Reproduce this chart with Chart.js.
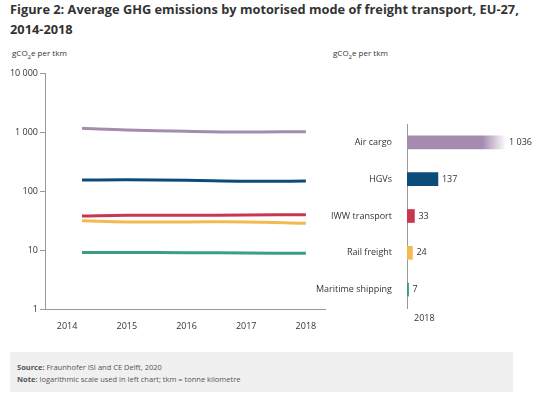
<!DOCTYPE html>
<html lang="en">
<head>
<meta charset="UTF-8">
<title>Average GHG emissions by motorised mode of freight transport</title>
<script src="https://cdn.jsdelivr.net/npm/chart.js"></script>
<style>
body { margin: 0; background: #fff; font-family: "Open Sans", sans-serif; color: #333; }
.title { position: absolute; left: 10px; top: -1px; width: 530px; font-size: 12.8px; font-weight: bold; line-height: 20px; color: #333; }
.unit { position: absolute; top: 47px; font-size: 8px; color: #333; }
.unit sub { font-size: 6px; }
#lineWrap { position: absolute; left: 0; top: 60px; width: 330px; height: 270px; }
#barWrap { position: absolute; left: 310px; top: 60px; width: 230px; height: 270px; }
.note { position: absolute; left: 10px; top: 352px; width: 503px; height: 40px; background: #f0f0f0; font-size: 7.5px; color: #555; }
.note div { position: absolute; left: 7px; }
</style>
</head>
<body>
<div class="title">Figure 2: Average GHG emissions by motorised mode of freight transport, EU-27, 2014-2018</div>
<div class="unit" style="left:12px">gCO<sub>2</sub>e per tkm</div>
<div class="unit" style="left:333px">gCO<sub>2</sub>e per tkm</div>
<div id="lineWrap"><canvas id="lineChart"></canvas></div>
<div id="barWrap"><canvas id="barChart"></canvas></div>
<div class="note">
  <div style="top:10px"><b>Source:</b> Fraunhofer ISI and CE Delft, 2020</div>
  <div style="top:22px"><b>Note:</b> logarithmic scale used in left chart; tkm = tonne kilometre</div>
</div>
<script>
// left chart: time series (log scale)
const years = [2014.25, 2015, 2016, 2017, 2018];
const yearTicks = [2014, 2015, 2016, 2017, 2018];
const logTicks = [1, 10, 100, 1000, 10000];
const airCargo = [1155, 1080, 1028, 1000, 1012];
const hgvs = [153, 155, 152, 146, 148];
const iww = [37.7, 38.8, 38.8, 39.2, 39.6];
const rail = [31.4, 29.9, 29.9, 29.9, 28.4];
const maritime = [9.1, 9.1, 9.0, 8.9, 8.8];

// right chart: 2018 bars
const modes = ['Air cargo', 'HGVs', 'IWW transport', 'Rail freight', 'Maritime shipping'];
const values2018 = [1036, 137, 33, 24, 7];

const colors = ['#a68bb0', '#0b4c7b', '#c8364f', '#f4ba52', '#3a9e84'];
const font = { family: 'Open Sans', size: 9 };

function fmt(v) {
    return String(v).replace(/\B(?=(\d{3})+(?!\d))/g, ' ');
}

const series = [airCargo, hgvs, iww, rail, maritime];

new Chart(document.getElementById('lineChart'), {
    type: 'line',
    data: {
        datasets: series.map((s, i) => ({
            label: modes[i],
            data: s.map((v, j) => ({ x: years[j], y: v })),
            borderColor: colors[i],
            borderWidth: 3,
            pointRadius: 0,
            tension: 0.4,
            fill: false
        }))
    },
    options: {
        responsive: true,
        maintainAspectRatio: false,
        animation: false,
        layout: { padding: { top: 13, right: 5, left: 0, bottom: 0 } },
        plugins: { legend: { display: false }, tooltip: { enabled: false } },
        scales: {
            x: {
                type: 'linear',
                min: 2013.63,
                max: 2018.32,
                afterBuildTicks: axis => { axis.ticks = yearTicks.map(v => ({ value: v })); },
                ticks: { font: font, color: '#333', padding: 4, callback: v => String(v) },
                grid: { display: false },
                border: { color: '#999' },
                afterFit: axis => { axis.height = 21; }
            },
            y: {
                type: 'logarithmic',
                min: 1,
                max: 10000,
                afterBuildTicks: axis => { axis.ticks = logTicks.map(v => ({ value: v })); },
                ticks: { font: font, color: '#333', padding: 2, callback: v => fmt(v) },
                grid: { drawOnChartArea: false, tickLength: 5, color: '#999' },
                border: { color: '#999' },
                afterFit: axis => { axis.width = 45; }
            }
        }
    }
});

const barLabels = {
    id: 'barLabels',
    afterDraw(chart) {
        const ctx = chart.ctx;
        const area = chart.chartArea;
        const meta = chart.getDatasetMeta(0);
        ctx.save();
        ctx.font = '9px "Open Sans"';
        ctx.fillStyle = '#333';
        ctx.textBaseline = 'middle';
        meta.data.forEach((bar, i) => {
            const x = Math.min(bar.x, area.right) + 4;
            ctx.fillText(fmt(values2018[i]), x, bar.y);
        });
        ctx.fillText('2018', area.left + 7, area.bottom + 10);
        ctx.restore();
    }
};

new Chart(document.getElementById('barChart'), {
    type: 'bar',
    data: {
        labels: modes,
        datasets: [{
            data: values2018,
            barThickness: 13,
            backgroundColor: ctx => {
                const chart = ctx.chart;
                const area = chart.chartArea;
                if (ctx.dataIndex !== 0 || !area) return colors[ctx.dataIndex];
                const g = chart.ctx.createLinearGradient(area.left, 0, area.right, 0);
                g.addColorStop(0, colors[0]);
                g.addColorStop(0.77, colors[0]);
                g.addColorStop(1, 'rgba(166,139,176,0.05)');
                return g;
            }
        }]
    },
    options: {
        indexAxis: 'y',
        responsive: true,
        maintainAspectRatio: false,
        animation: false,
        layout: { padding: { top: 64, right: 35, left: 0, bottom: 0 } },
        plugins: { legend: { display: false }, tooltip: { enabled: false } },
        scales: {
            x: {
                min: 0,
                max: 434,
                display: true,
                ticks: { display: false },
                grid: { display: false },
                border: { display: false },
                afterFit: axis => { axis.height = 22; }
            },
            y: {
                ticks: { font: font, color: '#333', padding: 7 },
                grid: { display: false },
                border: { color: '#999' },
                afterFit: axis => { axis.width = 97; }
            }
        }
    },
    plugins: [barLabels]
});
</script>
</body>
</html>
